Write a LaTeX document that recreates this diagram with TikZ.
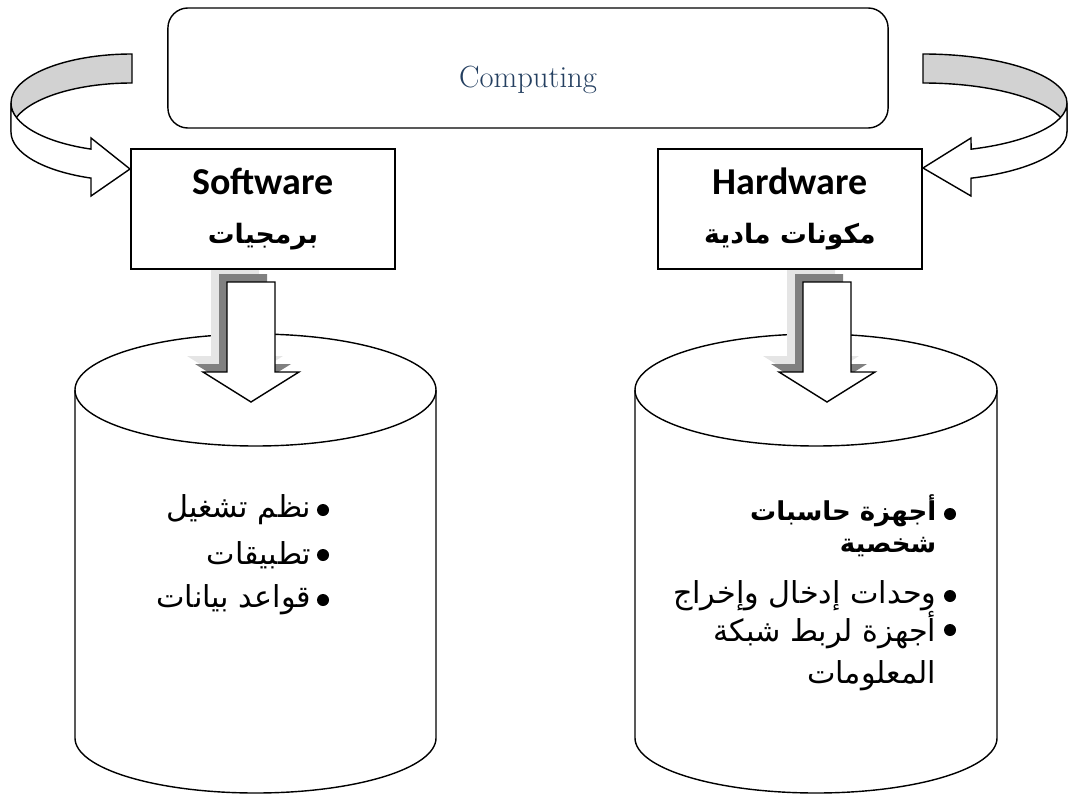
\documentclass[tikz,border=0pt]{standalone}
\usepackage{fontspec}
\newfontfamily\arabicfont[Script=Arabic]{DejaVu Sans}
\newfontfamily\labelfont{Carlito}
\TeXXeTstate=1
\definecolor{titleblue}{RGB}{36,63,96}

\tikzstyle{topbox} = [rectangle, draw, rounded corners=0.5cm,
                      minimum width=18cm, minimum height=3cm]
\tikzstyle{part} = [rectangle, draw, fill=white, align=center,
                    minimum width=6.6cm, minimum height=3cm,
                    font=\labelfont\bfseries\fontsize{27}{35}\selectfont]
\tikzstyle{band} = [draw, fill=gray!35]
\tikzstyle{bandfront} = [draw, fill=white]
\tikzstyle{listline} = [anchor=east, inner sep=0,
                        font=\arabicfont\fontsize{21.5}{24}\selectfont]
\tikzstyle{boldline} = [listline, font=\arabicfont\bfseries\fontsize{18.5}{22}\selectfont]
\tikzstyle{listdot} = [circle, fill, inner sep=0, minimum size=0.3cm]

\begin{document}
\begin{tikzpicture}[x=0.025cm, y=-0.025cm, line width=1pt]
  \useasboundingbox (0,0) rectangle (1070,794);

  %% Two cylinders
  \coordinate (softbase) at (255.5,390);
  \coordinate (hardbase) at (816,390);
  \draw (softbase) ellipse [x radius=180.5, y radius=56];
  \draw (75,390) -- (75,738) arc [start angle=180, end angle=0, x radius=180.5, y radius=55] -- (436,390);
  \draw (hardbase) ellipse [x radius=181, y radius=56];
  \draw (635,390) -- (635,738) arc [start angle=180, end angle=0, x radius=181, y radius=55] -- (997,390);

  %% Shadows of the down arrows
  \begin{scope}
    \clip (0,0) rectangle (1070,372);
    \foreach \cx in {251,827} {
      \fill [gray!20] (\cx-40,266) -- (\cx-40,356) -- (\cx-64,356) -- (\cx-16,386)
                      -- (\cx+32,356) -- (\cx+8,356) -- (\cx+8,266) -- cycle;
      \fill [gray] (\cx-32,274) -- (\cx-32,364) -- (\cx-56,364) -- (\cx-8,394)
                   -- (\cx+40,364) -- (\cx+16,364) -- (\cx+16,274) -- cycle;
    }
  \end{scope}

  %% Down arrows
  \foreach \cx in {251,827}
    \draw [fill=white] (\cx-24,282) -- (\cx-24,372) -- (\cx-48,372) -- (\cx,402)
                       -- (\cx+48,372) -- (\cx+24,372) -- (\cx+24,282) -- cycle;

  %% Boxes
  \node (computing) [topbox, text height=1.1cm, text depth=0.15cm,
                     font=\fontsize{21.8}{24}\selectfont, text=titleblue] at (528,68) {Computing};
  \node (software) [part] at (263,209)
    {Software\\ {\arabicfont\fontsize{19}{35}\selectfont\beginR برمجيات\endR}};
  \node (hardware) [part] at (790,209)
    {Hardware\\ {\arabicfont\fontsize{19}{35}\selectfont\beginR مكونات مادية\endR}};

  %% Curved arrows
  \draw [band] (11,103) arc [start angle=180, end angle=270, x radius=121, y radius=49]
    -- (132,83) arc [start angle=270, end angle=180, x radius=121, y radius=49] -- cycle;
  \draw [bandfront] (11,103) arc [start angle=180, end angle=109.8, x radius=121, y radius=49]
    -- (91,138) -- (130,169) -- (91,196) -- (91,178.1)
    arc [start angle=109.8, end angle=180, x radius=121, y radius=49] -- cycle;

  \draw [band] (1067,103) arc [start angle=0, end angle=-90, x radius=144, y radius=49]
    -- (923,83) arc [start angle=-90, end angle=0, x radius=144, y radius=49] -- cycle;
  \draw [bandfront] (1067,103) arc [start angle=0, end angle=70.5, x radius=144, y radius=49]
    -- (971,138) -- (923,168) -- (971,196) -- (971,178.2)
    arc [start angle=70.5, end angle=0, x radius=144, y radius=49] -- cycle;

  %% Software list
  \node (os) [listline] at (312,510) {\beginR نظم تشغيل\endR};
  \node (apps) [listline] at (312,555) {\beginR تطبيقات\endR};
  \node (db) [listline] at (312,600) {\beginR قواعد بيانات\endR};
  \foreach \y in {510,555,600}
    \node [listdot] at (323,\y) {};

  %% Hardware list
  \node (pc) [boldline] at (937,511) {\beginR أجهزة حاسبات\endR};
  \node (pc2) [boldline] at (937,547) {\beginR شخصية\endR};
  \node (io) [listline] at (937,596) {\beginR وحدات إدخال وإخراج\endR};
  \node (net) [listline] at (937,630) {\beginR أجهزة لربط شبكة\endR};
  \node (net2) [listline] at (937,676) {\beginR المعلومات\endR};
  \foreach \y in {514,596,630}
    \node [listdot] at (950,\y) {};
\end{tikzpicture}
\end{document}
